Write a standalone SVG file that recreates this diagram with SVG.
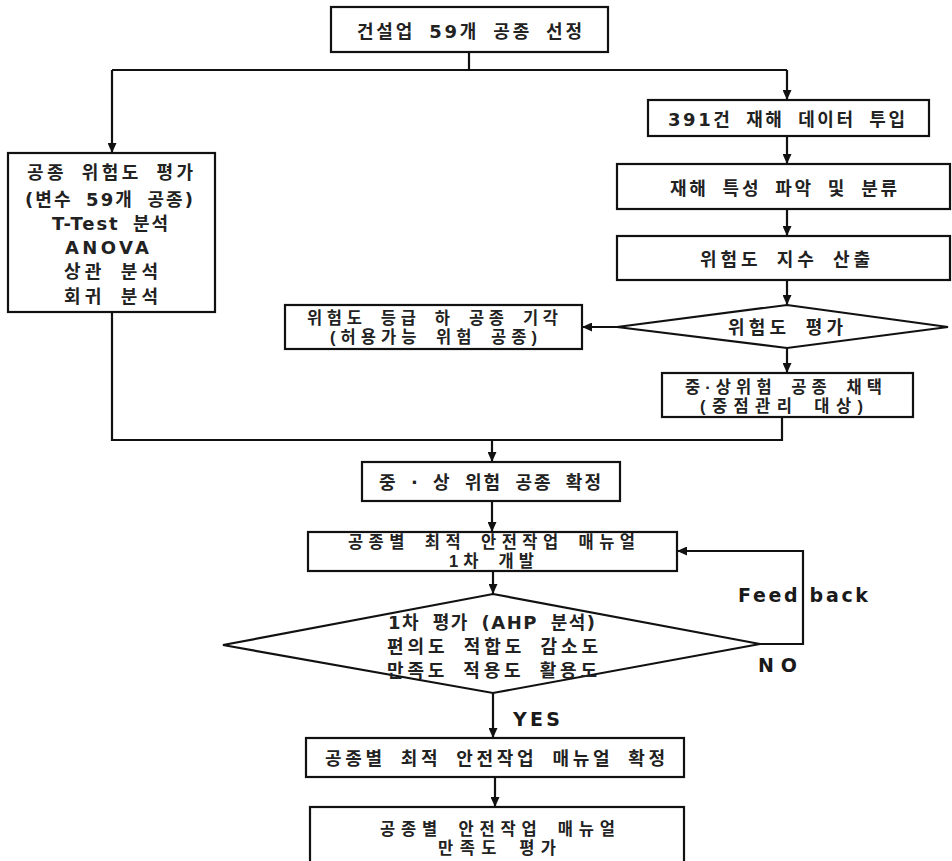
<svg xmlns="http://www.w3.org/2000/svg" width="952" height="861" viewBox="0 0 952 861">
<style>
  .box { fill: #ffffff; stroke: #111111; stroke-width: 2.2; }
  .conn { fill: none; stroke: #111111; stroke-width: 2.2; }
  .t { font-family: "DejaVu Sans", "Noto Sans CJK KR", sans-serif; font-size: 18px; font-weight: 700; fill: #222222; text-anchor: middle; dominant-baseline: central; word-spacing: 5px; }
  .t2 { font-family: "Liberation Sans", "Noto Sans CJK KR", sans-serif; font-size: 16.5px; font-weight: 700; fill: #222222; text-anchor: middle; dominant-baseline: central; word-spacing: 5px; }
  .lbl { font-family: "DejaVu Sans", sans-serif; font-size: 19px; font-weight: 700; fill: #1a1a1a; text-anchor: start; dominant-baseline: central; }
</style>
<defs>
  <marker id="arr" markerUnits="userSpaceOnUse" markerWidth="10" markerHeight="9" refX="10" refY="4.5" orient="auto">
    <path d="M0,0 L10,4.5 L0,9 z" fill="#111111"/>
  </marker>
</defs>
<rect width="952" height="861" fill="#ffffff"/>

<g id="connectors">
  <polyline class="conn" points="469,52 469,70"/>
  <polyline class="conn" points="112,70 787,70"/>
  <polyline class="conn" points="112,70 112,153" marker-end="url(#arr)"/>
  <polyline class="conn" points="787,70 787,100" marker-end="url(#arr)"/>
  <polyline class="conn" points="787,136 787,164" marker-end="url(#arr)"/>
  <polyline class="conn" points="787,209 787,236" marker-end="url(#arr)"/>
  <polyline class="conn" points="787,280 787,305" marker-end="url(#arr)"/>
  <polyline class="conn" points="617,327 582,327" marker-end="url(#arr)"/>
  <polyline class="conn" points="787,348 787,373" marker-end="url(#arr)"/>
  <polyline class="conn" points="112,312 112,440 782,440 782,417"/>
  <polyline class="conn" points="492,440 492,462" marker-end="url(#arr)"/>
  <polyline class="conn" points="492,501 492,532" marker-end="url(#arr)"/>
  <polyline class="conn" points="493,571 493,594" marker-end="url(#arr)"/>
  <polyline class="conn" points="493,693 493,738" marker-end="url(#arr)"/>
  <polyline class="conn" points="760,644 803,644 803,551 677,551" marker-end="url(#arr)"/>
  <polyline class="conn" points="495,777 495,807" marker-end="url(#arr)"/>
</g>

<g id="n_select">
  <rect class="box" x="331" y="7" width="277" height="45"/>
  <text class="t" x="469.5" y="31" textLength="225" lengthAdjust="spacing">건설업 59개 공종 선정</text>
</g>

<g id="n_risk_eval_left">
  <rect class="box" x="8" y="153" width="207" height="159"/>
  <text class="t" x="110" y="172" textLength="166" lengthAdjust="spacing">공종 위험도 평가</text>
  <text class="t" x="109" y="199" textLength="168" lengthAdjust="spacing">(변수 59개 공종)</text>
  <text class="t" x="110" y="223" textLength="116" lengthAdjust="spacing">T-Test 분석</text>
  <text class="t" x="107" y="247" textLength="84" lengthAdjust="spacing">ANOVA</text>
  <text class="t" x="111" y="271" textLength="94" lengthAdjust="spacing">상관 분석</text>
  <text class="t" x="111" y="296" textLength="94" lengthAdjust="spacing">회귀 분석</text>
</g>

<g id="n_data">
  <rect class="box" x="648" y="100" width="281" height="36"/>
  <text class="t" x="786.5" y="119" textLength="237" lengthAdjust="spacing">391건 재해 데이터 투입</text>
</g>

<g id="n_classify">
  <rect class="box" x="617" y="164" width="333" height="45"/>
  <text class="t" x="783.5" y="188" textLength="227" lengthAdjust="spacing">재해 특성 파악 및 분류</text>
</g>

<g id="n_index">
  <rect class="box" x="617" y="236" width="333" height="44"/>
  <text class="t" x="785" y="259" textLength="170" lengthAdjust="spacing">위험도 지수 산출</text>
</g>

<g id="n_decision1">
  <polygon class="box" points="787,305 948,327 787,348 617,327"/>
  <text class="t" x="785.5" y="327" textLength="115" lengthAdjust="spacing">위험도 평가</text>
</g>

<g id="n_reject">
  <rect class="box" x="285" y="305" width="297" height="44"/>
  <text class="t2" x="432.5" y="318" textLength="251" lengthAdjust="spacing">위험도 등급 하 공종 기각</text>
  <text class="t2" x="433.5" y="337" textLength="207" lengthAdjust="spacing">(허용가능 위험 공종)</text>
</g>

<g id="n_adopt">
  <rect class="box" x="662" y="373" width="251" height="44"/>
  <text class="t2" x="783.5" y="387" textLength="197" lengthAdjust="spacing">중·상위험 공종 채택</text>
  <text class="t2" x="781.5" y="406" textLength="163" lengthAdjust="spacing">(중점관리 대상)</text>
</g>

<g id="n_confirm_risk">
  <rect class="box" x="362" y="462" width="258" height="39"/>
  <text class="t" x="490" y="482" textLength="222" lengthAdjust="spacing">중 · 상 위험 공종 확정</text>
</g>

<g id="n_manual_dev">
  <rect class="box" x="308" y="532" width="369" height="39"/>
  <text class="t2" x="491.5" y="542" textLength="287" lengthAdjust="spacing">공종별 최적 안전작업 매뉴얼</text>
  <text class="t2" x="491.5" y="561" textLength="85" lengthAdjust="spacing">1차 개발</text>
</g>

<g id="n_decision2">
  <polygon class="box" points="493,594 760,644 493,693 223,645"/>
  <text class="t" x="491.5" y="622" textLength="207" lengthAdjust="spacing">1차 평가 (AHP 분석)</text>
  <text class="t" x="492.5" y="646" textLength="211" lengthAdjust="spacing">편의도 적합도 감소도</text>
  <text class="t" x="492" y="670" textLength="210" lengthAdjust="spacing">만족도 적용도 활용도</text>
</g>

<g id="n_manual_confirm">
  <rect class="box" x="306" y="738" width="378" height="39"/>
  <text class="t" x="495" y="758" textLength="340" lengthAdjust="spacing">공종별 최적 안전작업 매뉴얼 확정</text>
</g>

<g id="n_satisfaction">
  <rect class="box" x="310" y="807" width="374" height="70"/>
  <text class="t2" x="497.5" y="829" textLength="235" lengthAdjust="spacing">공종별 안전작업 매뉴얼</text>
  <text class="t2" x="497" y="848" textLength="118" lengthAdjust="spacing">만족도 평가</text>
</g>

<g id="labels">
  <text class="lbl" x="738" y="595" textLength="130" lengthAdjust="spacing">Feed back</text>
  <text class="lbl" x="758" y="665" textLength="39" lengthAdjust="spacing">NO</text>
  <text class="lbl" x="513" y="719" textLength="47" lengthAdjust="spacing">YES</text>
</g>
</svg>
